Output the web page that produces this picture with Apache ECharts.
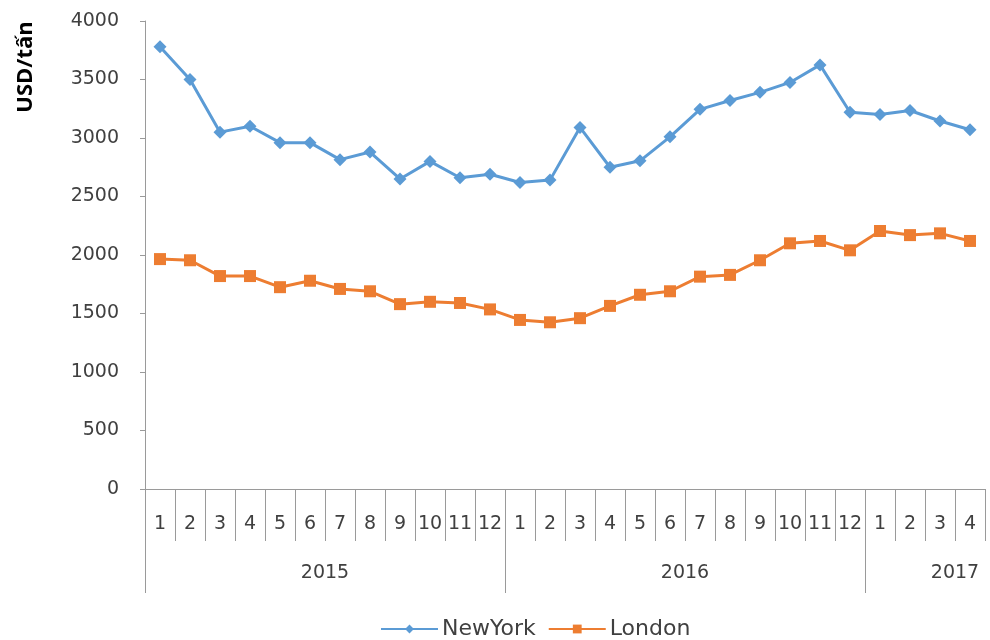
<!DOCTYPE html>
<html>
<head>
<meta charset="utf-8">
<script src="https://cdn.jsdelivr.net/npm/echarts@6/dist/echarts.min.js"></script>
<style>html,body{margin:0;padding:0;background:#fff}#c{width:990px;height:640px}</style>
</head>
<body>
<div id="c"></div>
<script>
var months = ['1','2','3','4','5','6','7','8','9','10','11','12',
              '1','2','3','4','5','6','7','8','9','10','11','12',
              '1','2','3','4'];
var years = ['2015','2016','2017'];
var monthsPerYear = [12, 12, 4];
var newYork = [3780,3500,3050,3100,2960,2960,2815,2880,2650,2800,2660,2690,
               2620,2640,3090,2750,2805,3010,3245,3320,3390,3475,3625,3220,
               3200,3235,3145,3070];
var london = [1965,1955,1820,1820,1725,1780,1710,1690,1580,1600,1590,1535,
              1445,1425,1460,1565,1660,1690,1815,1830,1955,2100,2120,2040,
              2205,2170,2185,2120];
var yTicks = [0,500,1000,1500,2000,2500,3000,3500,4000];

var boundaries = [0];
monthsPerYear.forEach(function(n, i){ boundaries.push(boundaries[i] + n); });
var total = boundaries[boundaries.length-1];
var yearBoundaryTicks = boundaries.slice(0, boundaries.length-1);
var yearLabelPos = [6, 18, 27];

var font = 'DejaVu Sans';
var txt = '#404040';
var axisCol = '#9a9a9a';

var chart = echarts.init(document.getElementById('c'));
chart.setOption({
  animation: false,
  textStyle: { fontFamily: font },
  grid: { left: 145, right: 5, top: 21, bottom: 151, containLabel: false },
  xAxis: [{
    type: 'category',
    data: months,
    boundaryGap: true,
    axisLine: { lineStyle: { color: axisCol, width: 1 } },
    axisTick: { show: true, interval: 0, length: 52, lineStyle: { color: axisCol } },
    axisLabel: { interval: 0, margin: 26, fontSize: 19, color: txt, fontFamily: font }
  }, {
    type: 'value',
    position: 'bottom',
    min: 0, max: total,
    axisLine: { show: false },
    splitLine: { show: false },
    axisTick: { show: true, length: 104, customValues: yearBoundaryTicks, lineStyle: { color: axisCol } },
    axisLabel: {
      customValues: yearLabelPos,
      margin: 75, fontSize: 19, color: txt, fontFamily: font,
      formatter: function(v){ var i = yearLabelPos.indexOf(v); return i >= 0 ? years[i] : ''; }
    }
  }],
  yAxis: {
    type: 'value',
    min: yTicks[0], max: yTicks[yTicks.length-1], interval: 500,
    axisLine: { show: true, lineStyle: { color: axisCol } },
    axisTick: { show: true, length: 5, lineStyle: { color: axisCol } },
    splitLine: { show: false },
    axisLabel: { margin: 26, fontSize: 19, color: txt, fontFamily: font,
      formatter: function(v){ return String(v); } }
  },
  graphic: [{
    type: 'text',
    x: 26, y: 67,
    rotation: Math.PI / 2,
    style: {
      text: 'USD/tấn',
      font: 'bold 22px "Open Sans"',
      fill: '#000',
      textAlign: 'center',
      textVerticalAlign: 'middle'
    }
  }],
  legend: {
    left: 375, top: 613,
    itemWidth: 57, itemHeight: 11, itemGap: 12,
    textStyle: { fontSize: 22, color: txt, fontFamily: font, padding: [0,0,0,-1] },
    data: ['NewYork', 'London']
  },
  series: [{
    name: 'NewYork',
    type: 'line',
    xAxisIndex: 0,
    data: newYork,
    symbol: 'diamond',
    symbolSize: 13,
    lineStyle: { width: 3, color: '#5B9BD5' },
    itemStyle: { color: '#5B9BD5' }
  }, {
    name: 'London',
    type: 'line',
    xAxisIndex: 0,
    data: london,
    symbol: 'rect',
    symbolSize: 12,
    lineStyle: { width: 3, color: '#ED7D31' },
    itemStyle: { color: '#ED7D31' }
  }]
});
</script>
</body>
</html>
